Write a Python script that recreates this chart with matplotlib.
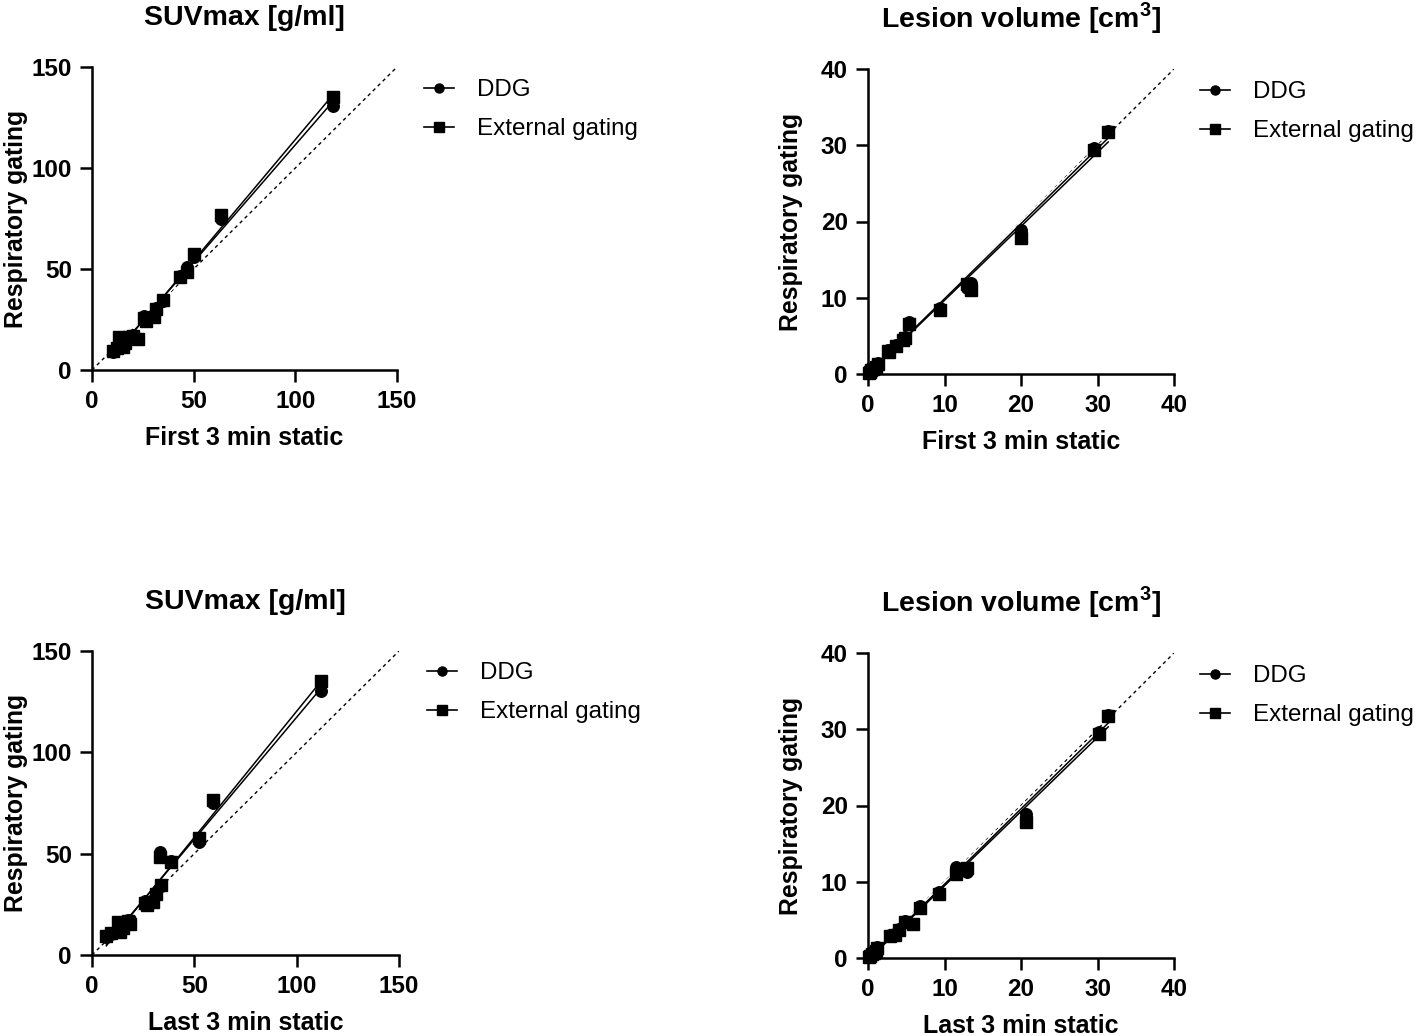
import numpy as np
import matplotlib
matplotlib.use("Agg")
import matplotlib.pyplot as plt
from matplotlib.lines import Line2D

plt.rcParams['font.family'] = ['Liberation Sans', 'DejaVu Sans']
plt.rcParams['mathtext.fontset'] = 'custom'
plt.rcParams['mathtext.rm'] = 'Liberation Sans:bold'
plt.rcParams['mathtext.bf'] = 'Liberation Sans:bold'

# ---- SUVmax [g/ml] ----
suv_first = [10.5, 12.5, 13.5, 15.0, 16.0, 18.0, 20.0, 22.5, 25.5, 26.5, 30.5, 31.5, 35.0, 43.5, 46.5, 50.0, 63.5, 118.5]
suv_last = [7.0, 9.5, 12.5, 13.5, 15.0, 18.0, 17.5, 18.5, 26.0, 27.0, 30.0, 31.5, 33.5, 38.5, 33.0, 52.5, 59.0, 112.0]
suv_ddg = [9.0, 10.5, 15.5, 12.0, 14.0, 17.0, 17.5, 15.5, 26.5, 25.0, 27.0, 30.5, 34.0, 46.5, 51.0, 56.0, 75.0, 130.5]
suv_ext = [9.5, 11.0, 16.5, 11.5, 13.5, 16.5, 17.0, 15.5, 25.5, 24.5, 26.0, 30.0, 34.5, 46.0, 48.5, 57.5, 76.5, 135.0]

# ---- Lesion volume [cm3] ----
vol_first = [31.4, 29.5, 20.0, 13.5, 13.0, 9.4, 5.3, 4.8, 4.6, 3.7, 2.8, 2.6, 1.3, 1.0, 0.7, 0.4, 0.2, 0.1]
vol_last = [31.4, 30.2, 20.6, 11.5, 12.9, 9.3, 6.8, 4.8, 5.9, 4.0, 2.9, 3.5, 1.2, 1.1, 0.8, 0.5, 0.3, 0.15]
vol_ddg = [31.9, 29.7, 18.9, 12.0, 11.3, 8.7, 6.8, 4.9, 4.5, 3.8, 3.0, 3.1, 1.4, 1.0, 0.7, 0.4, 0.2, 0.1]
vol_ext = [31.7, 29.4, 17.8, 11.0, 11.8, 8.4, 6.6, 4.7, 4.5, 3.7, 2.9, 3.0, 1.3, 0.9, 0.6, 0.5, 0.3, 0.1]

series_names = ["DDG", "External gating"]
suv_ticks = [0, 50, 100, 150]
vol_ticks = [0, 10, 20, 30, 40]

W, H = 1418, 1036
fig = plt.figure(figsize=(W / 100, H / 100), dpi=100)


def fpos(l, r, t, b):
    return [l / W, 1 - b / H, (r - l) / W, (b - t) / H]


panels = [
    dict(pos=fpos(92, 397, 67, 370), x=suv_first, ticks=suv_ticks, lim=150,
         title="SUVmax [g/ml]", xlabel="First 3 min static", ddg=suv_ddg, ext=suv_ext,
         leg=(424, 101), ylx=28),
    dict(pos=fpos(868, 1174, 69, 374), x=vol_first, ticks=vol_ticks, lim=40,
         title="Lesion volume [cm$^{3}$]", xlabel="First 3 min static", ddg=vol_ddg, ext=vol_ext,
         leg=(1200, 103), ylx=803),
    dict(pos=fpos(92, 399, 651, 955), x=suv_last, ticks=suv_ticks, lim=150,
         title="SUVmax [g/ml]", xlabel="Last 3 min static", ddg=suv_ddg, ext=suv_ext,
         leg=(427, 684), ylx=28),
    dict(pos=fpos(868, 1174, 653, 958), x=vol_last, ticks=vol_ticks, lim=40,
         title="Lesion volume [cm$^{3}$]", xlabel="Last 3 min static", ddg=vol_ddg, ext=vol_ext,
         leg=(1200, 687), ylx=803),
]

lw_axis = 1.8
for p in panels:
    ax = fig.add_axes(p['pos'])
    lim = p['lim']
    x = np.array(p['x'])
    # identity line
    ax.plot([0, lim], [0, lim], ls=(0, (2.5, 2.5)), color='black', lw=1.0, zorder=1)
    handles = []
    for name, ys, mk in [("DDG", p['ddg'], 'o'), ("External gating", p['ext'], 's')]:
        ys = np.array(ys)
        k, c = np.polyfit(x, ys, 1)
        xx = np.array([x.min(), x.max()])
        ax.plot(xx, k * xx + c, color='white', lw=3.2, zorder=2, solid_capstyle='butt')
        ax.plot(xx, k * xx + c, color='black', lw=1.1, zorder=3)
        ax.plot(x, ys, ls='none', marker=mk, ms=8.3, color='black', zorder=4, clip_on=False)
        handles.append(Line2D([], [], color='black', lw=1.2, marker=mk, ms=6.5))
    ax.set_xlim(0, lim)
    ax.set_ylim(0, lim)
    ax.set_xticks(p['ticks'])
    ax.set_yticks(p['ticks'])
    for s in ['top', 'right']:
        ax.spines[s].set_visible(False)
    for s in ['left', 'bottom']:
        ax.spines[s].set_linewidth(lw_axis)
    ax.tick_params(width=lw_axis, length=8.5, labelsize=17.5, pad=6)
    for lab in ax.get_xticklabels() + ax.get_yticklabels():
        lab.set_fontweight('bold')
    ax.set_title(p['title'], fontsize=20.5, fontweight='bold', pad=30)
    ax.set_xlabel(p['xlabel'], fontsize=18, fontweight='bold', labelpad=9)
    ax.set_ylabel("Respiratory gating", fontsize=17.8, fontweight='bold')
    ax.yaxis.set_label_coords(p['ylx'] / W, p['pos'][1] + p['pos'][3] / 2,
                              transform=fig.transFigure)
    lx, ly = p['leg']
    fig.legend(handles, series_names, loc='upper left',
               bbox_to_anchor=(lx / W, 1 - (ly - 22) / H), frameon=False,
               fontsize=17.4, handlelength=1.25, handletextpad=0.95, labelspacing=0.72,
               borderaxespad=0, borderpad=0)

fig.savefig("out.png", dpi=100)
